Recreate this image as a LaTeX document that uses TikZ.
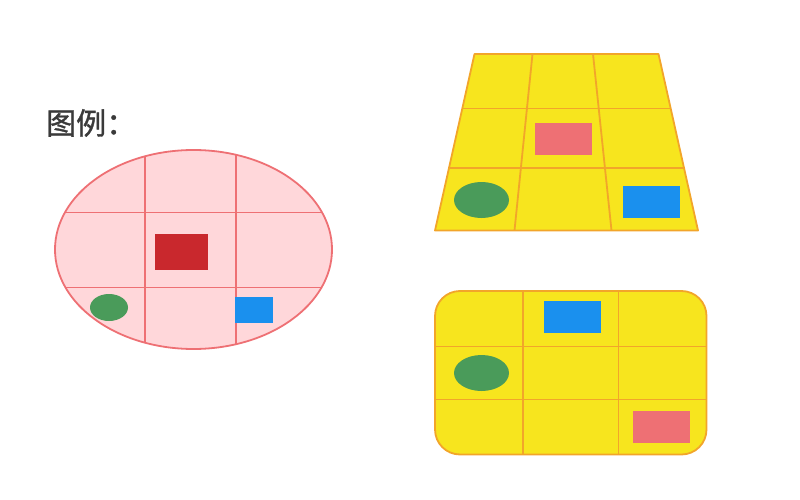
\documentclass[tikz,border=0pt]{standalone}
\usepackage{fontspec}
\newfontfamily\cjkfont[FakeBold=1.2]{Noto Sans CJK SC}
\definecolor{legendgray}{HTML}{3A3A3A}
\definecolor{pinkfill}{HTML}{FFD7DA}
\definecolor{pinkline}{HTML}{EE7074}
\definecolor{darkred}{HTML}{C9282D}
\definecolor{leafgreen}{HTML}{4A9B5A}
\definecolor{skyblue}{HTML}{1A90EE}
\definecolor{sunyellow}{HTML}{F7E51E}
\definecolor{orangeline}{HTML}{F2A52A}
\tikzset{
  pinkgrid/.style={draw=pinkline, line width=1.8pt},
  yellowgrid/.style={draw=orangeline, line width=1.8pt},
}

\begin{document}
\begin{tikzpicture}[x=1pt, y=-1pt]
        \useasboundingbox (0,0) rectangle (800,500);
        \node[anchor=west, inner sep=0pt, text=legendgray,
              font=\cjkfont\fontsize{30}{36}\selectfont] (legend) at (46,123) {图例：};
        % ellipse
        \fill[pinkfill] (193.5,249.5) ellipse [x radius=138.5pt, y radius=99.5pt];
        \begin{scope}
            \clip (193.5,249.5) ellipse [x radius=138.5pt, y radius=99.5pt];
            \foreach \x in {145,236}
                \draw[pinkgrid] (\x,140) -- (\x,360);
            \foreach \y in {212.5,287.5}
                \draw[pinkgrid] (40,\y) -- (340,\y);
        \end{scope}
        \draw[pinkgrid] (193.5,249.5) ellipse [x radius=138.5pt, y radius=99.5pt];
        \fill[darkred] (155,234) rectangle (208,270);
        \fill[leafgreen] (109,307.5) ellipse [x radius=19pt, y radius=13.5pt];
        \fill[skyblue] (235,297) rectangle (273,323);
        % trapezoid
        \draw[yellowgrid, fill=sunyellow, line join=round]
            (474.5,54) -- (658.5,54) -- (698,230.5) -- (435,230.5) -- cycle;
        \foreach \ya/\xl/\xr in {108.5/462.5/671, 168/449.5/684.5}
            \draw[yellowgrid] (\xl,\ya) -- (\xr,\ya);
        \foreach \xt/\xb in {532.5/514.5, 593/611.5}
            \draw[yellowgrid] (\xt,54) -- (\xb,230.5);
        \fill[pinkline] (535,123) rectangle (592,155);
        \fill[leafgreen] (481.5,200) ellipse [x radius=27.5pt, y radius=18pt];
        \fill[skyblue] (623,186) rectangle (680,218);
        % rounded box
        \draw[yellowgrid, fill=sunyellow, rounded corners=25pt]
            (435,291) rectangle (706.5,454.5);
        \foreach \x in {523,618.5}
            \draw[yellowgrid] (\x,291) -- (\x,454.5);
        \foreach \y in {346.5,399.5}
            \draw[yellowgrid] (435,\y) -- (706.5,\y);
        \fill[skyblue] (544,301) rectangle (601,333);
        \fill[leafgreen] (481.5,373) ellipse [x radius=27.5pt, y radius=18pt];
        \fill[pinkline] (633,411) rectangle (690,443);
    \end{tikzpicture}
\end{document}
